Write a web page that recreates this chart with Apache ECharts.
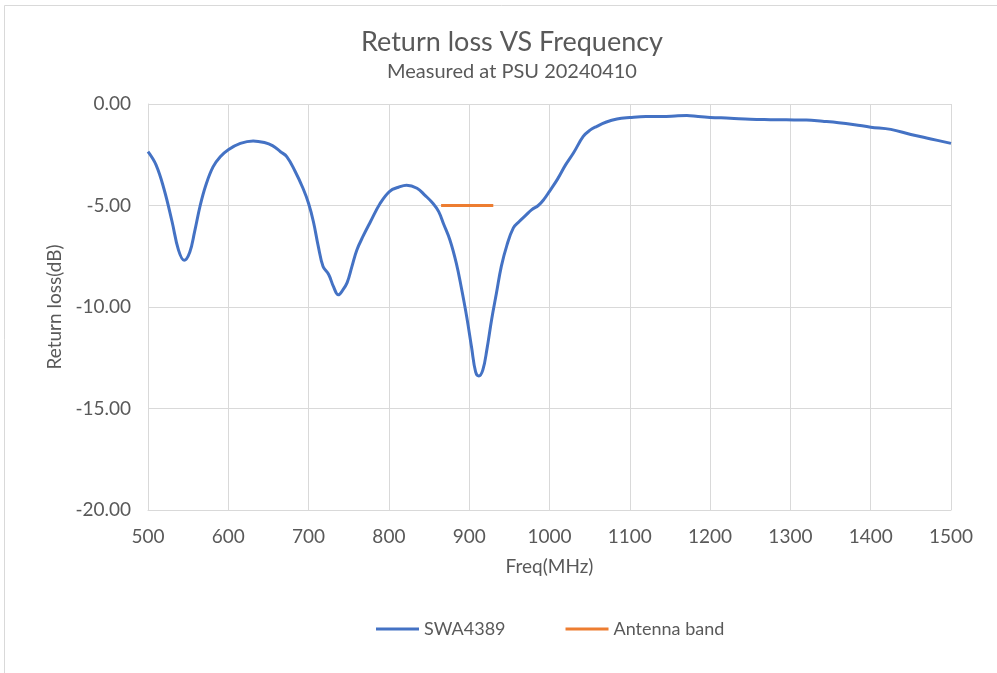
<!DOCTYPE html>
<html><head><meta charset="utf-8">
<script src="https://cdn.jsdelivr.net/npm/echarts@6/dist/echarts.min.js"></script>
<style>html,body{margin:0;padding:0;background:#fff}#c{width:997px;height:673px}</style>
</head><body><div id="c"></div>
<script>
const freqs = [500,510,520,530,538,545,552,558,565,572,581,590,600,615,631,645,655,665,673,683,693,700,706,712,718,725,731,737,742,748,754,760,768,777,789,801,812,822,835,845,855,862,868,876,884,890,897,903,908,912,917,922,928,934,940,947,955,962,970,978,986,993,1000,1010,1020,1030,1042,1050,1059,1070,1084,1100,1120,1140,1160,1171,1185,1200,1225,1250,1275,1295,1320,1340,1360,1380,1400,1425,1450,1475,1500];
const returnLoss = [-2.35,-3.0,-4.2,-5.8,-7.2,-7.7,-7.3,-6.3,-5.0,-4.0,-3.1,-2.6,-2.25,-1.94,-1.82,-1.9,-2.05,-2.35,-2.6,-3.3,-4.15,-4.9,-5.8,-7.0,-8.0,-8.4,-9.0,-9.4,-9.2,-8.8,-8.0,-7.2,-6.5,-5.8,-4.9,-4.3,-4.1,-4.0,-4.15,-4.5,-4.9,-5.3,-5.9,-6.7,-7.85,-9.0,-10.5,-12.0,-13.2,-13.4,-13.1,-12.1,-10.6,-9.3,-8.0,-6.95,-6.1,-5.8,-5.5,-5.2,-5.0,-4.7,-4.3,-3.7,-3.0,-2.4,-1.6,-1.3,-1.1,-0.9,-0.74,-0.67,-0.62,-0.62,-0.58,-0.57,-0.62,-0.66,-0.7,-0.75,-0.77,-0.78,-0.79,-0.85,-0.92,-1.02,-1.14,-1.25,-1.5,-1.72,-1.94];
const bandFreqs = [865, 930];
const bandLevel = [-5, -5];
const seriesNames = ['SWA4389', 'Antenna band'];

const font = 'Lato, "Open Sans", sans-serif';
const chart = echarts.init(document.getElementById('c'), null, {renderer: 'canvas'});
chart.setOption({
  animation: false,
  backgroundColor: '#fff',
  title: {
    text: 'Return loss VS Frequency',
    subtext: 'Measured at PSU 20240410',
    left: 507, top: 24, textAlign: 'center',
    itemGap: 6,
    textStyle: {fontFamily: font, fontSize: 27, fontWeight: 'normal', color: '#595959'},
    subtextStyle: {fontFamily: font, fontSize: 20, color: '#595959'}
  },
  graphic: [{type: 'rect', shape: {x: 4.5, y: 5.5, width: 1000, height: 700}, style: {fill: 'none', stroke: '#d9d9d9', lineWidth: 1}, silent: true, z: -1}],
  legend: {
    top: 615, left: 371,
    itemGap: 60, itemWidth: 43, itemHeight: 3,
    textStyle: {fontFamily: font, fontSize: 18, color: '#595959'},
    data: seriesNames.map(n => ({name: n, icon: 'rect'}))
  },
  grid: {left: 148, right: 46, top: 104, bottom: 163, containLabel: false},
  xAxis: {
    type: 'value', min: 500, max: 1500, interval: 100,
    name: 'Freq(MHz)', nameLocation: 'middle', nameGap: 47,
    nameTextStyle: {fontFamily: font, fontSize: 19, color: '#595959'},
    axisLine: {show: true, onZero: false, lineStyle: {color: '#d9d9d9'}},
    axisTick: {show: false},
    axisLabel: {fontFamily: font, fontSize: 19, color: '#595959', margin: 17, formatter: v => String(v)},
    splitLine: {show: true, lineStyle: {color: '#d9d9d9', width: 1}}
  },
  yAxis: {
    type: 'value', min: -20, max: 0, interval: 5,
    name: 'Return loss(dB)', nameLocation: 'middle', nameGap: 74, nameRotate: 90,
    nameTextStyle: {fontFamily: font, fontSize: 19, color: '#595959'},
    axisLine: {show: true, lineStyle: {color: '#d9d9d9'}},
    axisTick: {show: false},
    axisLabel: {fontFamily: font, fontSize: 19, color: '#595959', margin: 17, formatter: v => v.toFixed(2)},
    splitLine: {show: true, lineStyle: {color: '#d9d9d9', width: 1}}
  },
  series: [
    {name: seriesNames[0], type: 'line', smooth: 0.4, showSymbol: false, symbol: 'none',
     lineStyle: {color: '#4472C4', width: 3}, itemStyle: {color: '#4472C4'},
     data: freqs.map((f, i) => [f, returnLoss[i]])},
    {name: seriesNames[1], type: 'line', showSymbol: false, symbol: 'none',
     lineStyle: {color: '#ED7D31', width: 3}, itemStyle: {color: '#ED7D31'},
     data: bandFreqs.map((f, i) => [f, bandLevel[i]])}
  ]
});
</script></body></html>
